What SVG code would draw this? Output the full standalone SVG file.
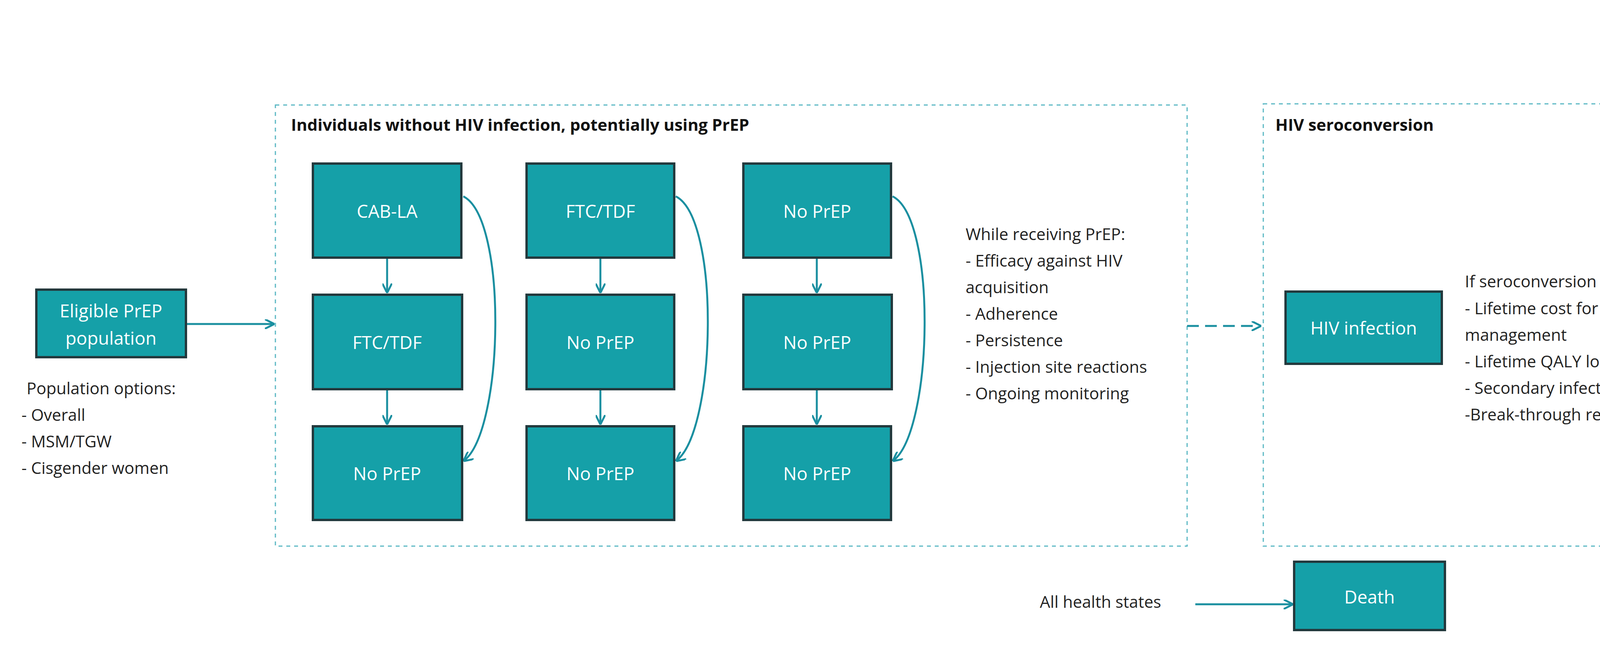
<svg xmlns="http://www.w3.org/2000/svg" width="4440" height="1660" viewBox="0 0 4440 1660">
<style>
.box{fill:#15a0a8;stroke:#23393d;stroke-width:6}
.bt{fill:#ffffff;font-family:"Open Sans","Liberation Sans",sans-serif;font-size:46px;text-anchor:middle;dominant-baseline:central}
.frame{fill:none;stroke:#5bb8c4;stroke-width:3;stroke-dasharray:10 10}
.ttl{font-family:"Open Sans","Liberation Sans",sans-serif;font-size:42px;font-weight:bold;fill:#111}
.tx{font-family:"Open Sans","Liberation Sans",sans-serif;font-size:42px;fill:#222}
.ln{fill:none;stroke:#1a8fa0;stroke-width:5}
</style>
<defs>
<marker id="ah" viewBox="0 0 10 10" refX="9" refY="5" markerWidth="5" markerHeight="5" orient="auto" markerUnits="strokeWidth">
<path d="M0,0 L10,5 L0,10" fill="none" stroke="#1a8fa0" stroke-width="2"/>
</marker>
</defs>
<rect width="4440" height="1660" fill="#ffffff"/>
<g id="frames">
<rect class="frame" x="705" y="269" width="2334" height="1130"/>
<text class="ttl" x="745" y="335">Individuals without HIV infection, potentially using PrEP</text>
<rect class="frame" x="3234" y="266" width="1048" height="1133"/>
<text class="ttl" x="3265" y="335">HIV seroconversion</text>
</g>
<g id="connectors">
<line class="ln" x1="476" y1="830" x2="700" y2="830" marker-end="url(#ah)"/>
<line class="ln" x1="991" y1="660" x2="991" y2="748" marker-end="url(#ah)"/>
<line class="ln" x1="991" y1="997" x2="991" y2="1085" marker-end="url(#ah)"/>
<line class="ln" x1="1537" y1="660" x2="1537" y2="748" marker-end="url(#ah)"/>
<line class="ln" x1="1537" y1="997" x2="1537" y2="1085" marker-end="url(#ah)"/>
<line class="ln" x1="2091" y1="660" x2="2091" y2="748" marker-end="url(#ah)"/>
<line class="ln" x1="2091" y1="997" x2="2091" y2="1085" marker-end="url(#ah)"/>
<path class="ln" d="M1186,503 C1300,560 1290,1100 1188,1180" marker-end="url(#ah)"/>
<path class="ln" d="M1730,503 C1844,560 1834,1100 1732,1180" marker-end="url(#ah)"/>
<path class="ln" d="M2285,503 C2399,560 2389,1100 2287,1180" marker-end="url(#ah)"/>
<line class="ln" x1="3039" y1="835" x2="3226" y2="835" stroke-dasharray="30 16" marker-end="url(#ah)"/>
<line class="ln" x1="3060" y1="1548" x2="3308" y2="1548" stroke-width="4" marker-end="url(#ah)"/>
</g>
<g id="eligible"><rect class="box" x="93" y="742" width="383" height="173"/><text class="bt" x="284" y="795">Eligible PrEP</text><text class="bt" x="284" y="865">population</text></g>
<g id="popopts">
<text class="tx" x="68" y="1010">Population options:</text>
<text class="tx" x="55" y="1078">- Overall</text>
<text class="tx" x="55" y="1146">- MSM/TGW</text>
<text class="tx" x="55" y="1214">- Cisgender women</text>
</g>
<g id="c1r1"><rect class="box" x="801" y="419" width="380" height="241"/><text class="bt" x="991" y="540">CAB-LA</text></g>
<g id="c1r2"><rect class="box" x="801" y="755" width="382" height="242"/><text class="bt" x="991" y="876">FTC/TDF</text></g>
<g id="c1r3"><rect class="box" x="801" y="1092" width="382" height="240"/><text class="bt" x="991" y="1212">No PrEP</text></g>
<g id="c2r1"><rect class="box" x="1348" y="419" width="378" height="241"/><text class="bt" x="1537" y="540">FTC/TDF</text></g>
<g id="c2r2"><rect class="box" x="1348" y="755" width="378" height="242"/><text class="bt" x="1537" y="876">No PrEP</text></g>
<g id="c2r3"><rect class="box" x="1348" y="1092" width="378" height="240"/><text class="bt" x="1537" y="1212">No PrEP</text></g>
<g id="c3r1"><rect class="box" x="1903" y="419" width="378" height="241"/><text class="bt" x="2092" y="540">No PrEP</text></g>
<g id="c3r2"><rect class="box" x="1903" y="755" width="380" height="242"/><text class="bt" x="2092" y="876">No PrEP</text></g>
<g id="c3r3"><rect class="box" x="1903" y="1092" width="378" height="240"/><text class="bt" x="2092" y="1212">No PrEP</text></g>
<g id="prepnotes">
<text class="tx" x="2472" y="615">While receiving PrEP:</text>
<text class="tx" x="2472" y="683">- Efficacy against HIV</text>
<text class="tx" x="2472" y="751">acquisition</text>
<text class="tx" x="2472" y="819">- Adherence</text>
<text class="tx" x="2472" y="887">- Persistence</text>
<text class="tx" x="2472" y="955">- Injection site reactions</text>
<text class="tx" x="2472" y="1023">- Ongoing monitoring</text>
</g>
<g id="hiv"><rect class="box" x="3291" y="747" width="400" height="185"/><text class="bt" x="3491" y="839">HIV infection</text></g>
<g id="seronotes">
<text class="tx" x="3750" y="736">If seroconversion occurs:</text>
<text class="tx" x="3750" y="805">- Lifetime cost for HIV</text>
<text class="tx" x="3750" y="873">management</text>
<text class="tx" x="3750" y="941">- Lifetime QALY loss</text>
<text class="tx" x="3750" y="1009">- Secondary infections</text>
<text class="tx" x="3750" y="1077">-Break-through resistance</text>
</g>
<g id="allstates"><text class="tx" x="2662" y="1557">All health states</text></g>
<g id="death"><rect class="box" x="3313" y="1439" width="386" height="175"/><text class="bt" x="3506" y="1528">Death</text></g>
</svg>
